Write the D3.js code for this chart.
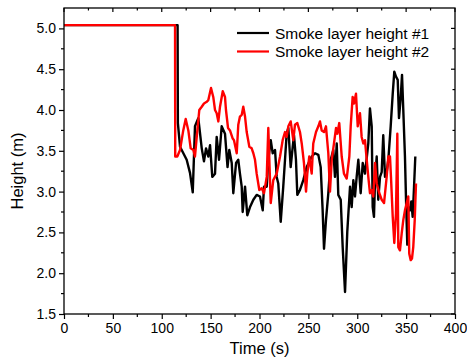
<!DOCTYPE html>
<html>
<head>
<meta charset="utf-8">
<script src="https://cdn.jsdelivr.net/npm/d3@7"></script>
<style>
  body { margin: 0; background: #fff; }
  svg { display: block; font-family: "Liberation Sans", Arial, sans-serif; }
</style>
</head>
<body>
<div id="chart"></div>
<script>
// smoke layer height #1 (black)
var time1 = [0, 116.2, 116.5, 118.7, 125.5, 128.9, 131.7, 134.0, 137.4, 140.9, 143.2, 145.3, 147.6, 149.4, 151.7, 154.5, 156.2, 158.6, 161.3, 164.7,
  167.3, 169.1, 171.6, 173.2, 176, 178.3, 180, 181.8, 182.8, 185.2, 187.5, 190.3, 193.7, 197.1, 200.5, 203.3, 204.6, 207.4, 209, 211.5,
  213.5, 215.9, 217.6, 219.2, 221.7, 224.3, 226.1, 227.8, 229.5, 231.9, 234, 235.3, 237.3, 238.7, 241.4, 244.8, 248.3, 253.4, 256.8, 260.2,
  262.6, 264.6, 266, 268, 270.4, 272.8, 275.5, 277.2, 279, 280.6, 283.1, 285.1, 287.5, 289.8, 292.6, 294.3, 296, 297.7, 299.4, 301.1,
  303.5, 305.6, 307.9, 309.7, 311.3, 313, 314.8, 315.8, 317.1, 318.2, 319.9, 321.5, 323.3, 325, 326.6, 328.4, 330.1, 331.8, 334.2, 336.3,
  337.9, 339.6, 341.4, 342.7, 344.5, 345.8, 347.1, 348.8, 349.9, 351.2, 352.2, 354, 355.3, 356.7, 358.1, 359.4];
var height1 = [5.04, 5.04, 3.84, 3.55, 3.39, 3.23, 2.99, 3.8, 3.9, 3.53, 3.37, 3.53, 3.43, 3.57, 3.18, 3.22, 3.67, 3.39, 3.8, 3.71,
  3.3, 3.51, 3.35, 2.98, 3.35, 3.39, 3.22, 3.06, 2.75, 3.06, 2.71, 2.81, 2.9, 2.96, 2.94, 2.77, 3.06, 3.06, 3.39, 3.63,
  3.47, 3.51, 3.18, 3.1, 2.63, 3.06, 3.39, 3.71, 3.78, 3.3, 3.55, 3.69, 3.39, 2.96, 3.02, 3.14, 3.3, 3.43, 3.47, 3.45,
  3.3, 2.77, 2.3, 2.65, 2.98, 3.39, 3.51, 3.18, 3.59, 2.96, 2.9, 2.32, 1.77, 2.51, 3.06, 2.81, 3.14, 2.94, 3.18, 3.39,
  2.98, 3.35, 3.22, 3.41, 3.59, 4.02, 3.8, 2.81, 2.69, 3.14, 3.43, 2.9, 3.18, 3.24, 3.69, 3.18, 3.24, 3.39, 3.8, 4.2,
  4.47, 4.41, 4.37, 3.9, 4.16, 4.43, 4.0, 3.43, 2.9, 2.35, 2.81, 2.77, 2.88, 2.69, 3.06, 3.43];

// smoke layer height #2 (red)
var time2 = [0, 113.6, 113.8, 115.9, 118.7, 122, 124.5, 127.2, 129.6, 132.3, 134, 135.8, 138.4, 140.9, 143.2, 146, 147.6, 150.4, 152.7, 154.5,
  156.2, 157.9, 159.6, 162.4, 164.7, 165.7, 167.8, 169.8, 172.6, 173.9, 176.7, 178.3, 180, 181.8, 183.4, 185.2, 186.9, 189.6, 192, 193.7,
  195.4, 197.1, 199.8, 202.3, 204.6, 207.4, 209, 211.5, 214.1, 217.6, 221, 223.7, 226.1, 227.8, 229.5, 231.9, 234.6, 236.3, 238.7, 241.4,
  243.2, 245.5, 247.6, 248.9, 250.9, 253.4, 255, 257.8, 260.2, 261.9, 263.6, 266, 268, 270.4, 272.1, 273.9, 276.2, 278.3, 279.6, 281.6,
  284.1, 286.4, 289.2, 291.9, 293.3, 295.3, 296.7, 298.7, 300.5, 302.8, 304.5, 306.2, 307.9, 309.7, 311.3, 313, 314.8, 316.4, 318.2, 319.9,
  322.6, 325, 327.4, 330.1, 331.8, 333.5, 334.5, 336.3, 337.9, 339.6, 341, 342, 343.7, 345.5, 347.1, 348.8, 350.6, 352.2, 353.2, 354.7,
  356, 357.3, 358.8, 360.1];
var height2 = [5.04, 5.04, 3.43, 3.43, 3.51, 3.75, 3.89, 3.75, 3.53, 3.51, 3.43, 3.67, 4.0, 4.04, 4.08, 4.1, 4.12, 4.27, 4.16, 4.0,
  3.96, 3.86, 4.04, 4.23, 4.16, 4.0, 3.78, 3.75, 3.65, 3.63, 3.47, 3.82, 3.92, 3.94, 4.04, 3.92, 3.73, 3.55, 3.53, 3.47,
  3.39, 3.22, 3.02, 3.04, 2.98, 3.18, 3.78, 2.86, 3.14, 3.22, 3.43, 3.63, 3.73, 3.67, 3.8, 3.86, 3.63, 3.82, 3.84, 3.73,
  3.59, 3.35, 3.0, 3.22, 3.43, 3.22, 3.59, 3.73, 3.8, 3.86, 3.75, 3.73, 3.8, 3.47, 3.0, 3.39, 3.59, 3.78, 3.71, 3.84,
  3.43, 3.22, 3.16, 3.43, 3.8, 4.16, 4.08, 4.2, 3.8, 3.96, 3.67, 3.59, 3.63, 3.39, 3.18, 2.98, 3.02, 2.94, 3.35, 3.1,
  2.98, 2.9, 2.86, 3.18, 3.43, 3.43, 3.18, 2.69, 2.37, 2.73, 3.71, 2.32, 2.28, 2.49, 2.65, 2.77, 2.86, 2.94, 2.24, 2.16,
  2.18, 2.32, 2.65, 3.1];

var seriesNames = ["Smoke layer height #1", "Smoke layer height #2"];
var seriesColors = ["#000000", "#ff0000"];
var xTicks = [0, 50, 100, 150, 200, 250, 300, 350, 400];
var yTicks = [1.5, 2.0, 2.5, 3.0, 3.5, 4.0, 4.5, 5.0];

var width = 467, height = 360;
var margin = {top: 8, right: 12, bottom: 46, left: 64};
var w = width - margin.left - margin.right;
var h = height - margin.top - margin.bottom;

var svg = d3.select("#chart").append("svg")
    .attr("width", width)
    .attr("height", height);

var g = svg.append("g")
    .attr("transform", "translate(" + margin.left + "," + margin.top + ")");

var x = d3.scaleLinear().domain([0, 400]).range([0, w]);
var y = d3.scaleLinear().domain([1.5, 5.25]).range([h, 0]);

var data = [
  d3.zip(time1, height1),
  d3.zip(time2, height2)
];

var line = d3.line()
    .x(function(d) { return x(d[0]); })
    .y(function(d) { return y(d[1]); });

g.append("defs").append("clipPath").attr("id", "clip")
  .append("rect").attr("width", w).attr("height", h);

// black first, red drawn on top
g.selectAll("path.series")
    .data([0, 1])
    .enter().append("path")
    .attr("class", "series")
    .attr("clip-path", "url(#clip)")
    .attr("d", function(i) { return line(data[i]); })
    .attr("fill", "none")
    .attr("stroke", function(i) { return seriesColors[i]; })
    .attr("stroke-width", 2.4)
    .attr("stroke-linejoin", "round");

// axes
var minorX = d3.range(25, 400, 50);
var minorY = d3.range(1.75, 5.25, 0.5);

var xAxis = g.append("g").attr("transform", "translate(0," + h + ")")
    .call(d3.axisBottom(x).tickValues(xTicks).tickSize(5).tickPadding(4).tickFormat(d3.format("d")));
var yAxis = g.append("g")
    .call(d3.axisLeft(y).tickValues(yTicks).tickSize(5).tickPadding(3).tickFormat(d3.format(".1f")));

[xAxis, yAxis].forEach(function(a) {
  a.select(".domain").remove();
  a.selectAll("text").attr("font-size", 14).attr("fill", "#000")
    .attr("font-family", "'Liberation Sans', Arial, sans-serif");
  a.selectAll("line").attr("stroke", "#000").attr("stroke-width", 1.2);
});

g.selectAll("line.minx").data(minorX).enter().append("line")
    .attr("x1", x).attr("x2", x).attr("y1", h).attr("y2", h + 3)
    .attr("stroke", "#000").attr("stroke-width", 1.2);
g.selectAll("line.miny").data(minorY).enter().append("line")
    .attr("y1", y).attr("y2", y).attr("x1", 0).attr("x2", -3)
    .attr("stroke", "#000").attr("stroke-width", 1.2);

// mirrored ticks on top/right
g.selectAll("line.tx").data(xTicks.concat(minorX)).enter().append("line")
    .attr("x1", x).attr("x2", x).attr("y1", 0)
    .attr("y2", function(d) { return d % 50 === 0 ? 4 : 2.5; })
    .attr("stroke", "#000").attr("stroke-width", 1.2);
g.selectAll("line.ry").data(yTicks.concat(minorY)).enter().append("line")
    .attr("y1", y).attr("y2", y).attr("x1", w)
    .attr("x2", function(d) { return yTicks.indexOf(d) >= 0 ? w - 4 : w - 2.5; })
    .attr("stroke", "#000").attr("stroke-width", 1.2);

// frame
g.append("rect")
    .attr("width", w).attr("height", h)
    .attr("fill", "none")
    .attr("stroke", "#000")
    .attr("stroke-width", 1.3);

// axis titles
svg.append("text")
    .attr("x", margin.left + w / 2)
    .attr("y", 354)
    .attr("text-anchor", "middle")
    .attr("font-size", 16.5)
    .text("Time (s)");

svg.append("text")
    .attr("transform", "translate(23," + 171 + ")rotate(-90)")
    .attr("text-anchor", "middle")
    .attr("font-size", 16.5)
    .text("Height (m)");

// legend
var legend = svg.append("g").attr("transform", "translate(237,33)");
seriesNames.forEach(function(name, i) {
  legend.append("line")
      .attr("x1", 0).attr("x2", 32)
      .attr("y1", i * 18.5).attr("y2", i * 18.5)
      .attr("stroke", seriesColors[i])
      .attr("stroke-width", 2.2);
  legend.append("text")
      .attr("x", 38)
      .attr("y", i * 18.5 + 5.5)
      .attr("font-size", 15.5)
      .text(name);
});
</script>
</body>
</html>
